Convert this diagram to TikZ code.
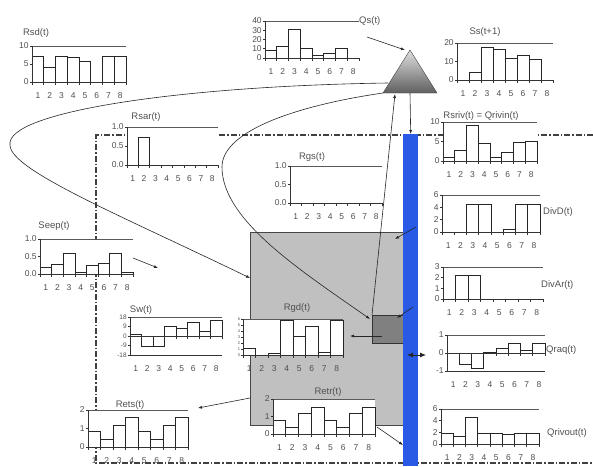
\documentclass[tikz,border=0pt]{standalone}
\usepackage{fontspec}
\setmainfont{Liberation Sans}
\usetikzlibrary{arrows.meta}

\definecolor{riverblue}{RGB}{40,90,230}
\definecolor{labgray}{RGB}{80,80,80}
\definecolor{zonegray}{RGB}{192,192,192}
\definecolor{cellgray}{RGB}{128,128,128}

\tikzset{
  chartbar/.style={draw=black!85, fill=white, line width=0.6pt},
  topline/.style={draw=gray!70!black, line width=1pt},
  axisline/.style={draw=black!80, line width=0.6pt},
  ticklab/.style={font=\fontsize{8.5}{9}\selectfont, text=labgray, inner sep=0.5pt},
  ylab/.style={ticklab},
  charttitle/.style={font=\fontsize{9.5}{10}\selectfont, text=labgray, inner sep=1pt},
  flow/.style={draw=black!85, line width=0.6pt, -{Latex[length=4pt,width=3pt]}},
  zoneline/.style={draw=black!75, line width=1.1pt, dash pattern=on 6pt off 2pt on 1.5pt off 2pt},
}

% #1 name, #2 left, #3 bottom, #4 top, #5 width, #6 ymin, #7 ymax, #8 values, #9 y ticks
\newcommand{\barchart}[9]{%
  \pgfmathsetmacro{\chsc}{(#3-#4)/(#7-(#6))}%
  \pgfmathsetmacro{\chzero}{#3+(#6)*\chsc}%
  \pgfmathsetmacro{\chbw}{#5/8}%
  \coordinate (#1) at (#2,#4);
  \fill[white] (#2,#4) rectangle ({#2+#5},#3);
  \foreach \v [count=\i] in {#8}
    \draw[chartbar] ({#2+(\i-1)*\chbw},\chzero) rectangle ({#2+\i*\chbw},{#3-((\v)-(#6))*\chsc});
  \draw[topline] (#2,#4) -- ({#2+#5},#4);
  \draw[axisline] (#2,#4) -- (#2,#3) -- ({#2+#5},#3);
  \draw[axisline] (#2,\chzero) -- ({#2+#5},\chzero);
  \foreach \t [count=\k] in {#9}
    \draw[axisline] (#2,{#3-((\t)-(#6))*\chsc}) -- ++(-2.5,0)
      node[ylab, anchor=east] (#1y\k) {\t};
  \foreach \i in {0,...,8}
    \draw[axisline] ({#2+\i*\chbw},\chzero) -- ++(0,2.5);
  \foreach \i in {1,...,8}
    \node[ticklab] (#1x\i) at ({#2+(\i-0.5)*\chbw},{#3+14}) {\i};
}

\begin{document}
\begin{tikzpicture}[x=1pt,y=-1pt]
\useasboundingbox (0,0) rectangle (593,466);

% catchment border
\draw[zoneline] (593,135) -- (96,135) -- (96,463) -- (593,463);

% aquifer, cell, river, reservoir
\node[draw=gray!55!black, fill=zonegray, minimum width=153pt, minimum height=193pt,
      inner sep=0pt, anchor=north west] (aquifer) at (250,232) {};
\node[draw=black!80, fill=cellgray, minimum width=31pt, minimum height=28pt,
      inner sep=0pt, anchor=north west] (cell) at (372,315) {};
\node[fill=riverblue, minimum width=15pt, minimum height=332pt,
      inner sep=0pt, anchor=north west] (river) at (403,134) {};

\coordinate (apex) at (410,50);
\coordinate (tbl) at (383,93);
\coordinate (tbr) at (437,93);
\shade[top color=gray!25, bottom color=gray!75!black, draw=gray!50!black]
  (apex) -- (tbr) -- (tbl) -- cycle;

% connectors
\coordinate (qsfoot) at (367,37);
\coordinate (tankin) at (405,50);
\coordinate (tankout) at (410,93);
\coordinate (tankbase) at (395,94);
\coordinate (tankleft) at (388,83);
\coordinate (loopw) at (10,145);
\coordinate (loope) at (222,167);
\coordinate (aqin) at (250,278);
\coordinate (cellin) at (370,319);
\coordinate (rivaq) at (416,227);
\coordinate (aqtop) at (395,239);
\coordinate (rivcell) at (413,307);
\coordinate (celltop) at (397,318);
\coordinate (cellout) at (382,336);
\coordinate (rgdin) at (350,336);
\coordinate (retrout) at (377,427);
\coordinate (rivin) at (403,445);
\coordinate (aqleft) at (250,398);
\coordinate (retsin) at (198,408);
\coordinate (seepout) at (133,258);
\coordinate (seepin) at (158,268);
\coordinate (exl) at (407,355);
\coordinate (exr) at (426,355);

\draw[flow] (qsfoot) -- (tankin);
\draw[flow] (tankout) -- (river.north);
\draw[flow] (cell.north west) -- (tankbase);
\draw[flow] (tankleft) .. controls (180,86) and (5,112) .. (loopw)
  .. controls (10,170) and (120,215) .. (aqin);
\draw[flow] (tbl) .. controls (300,105) and (222,130) .. (loope)
  .. controls (222,220) and (300,270) .. (cellin);
\draw[flow] (rivaq) -- (aqtop);
\draw[flow] (rivcell) -- (celltop);
\draw[flow] (cellout) -- (rgdin);
\draw[flow] (retrout) -- (rivin);
\draw[flow] (aqleft) -- (retsin);
\draw[flow] (seepout) -- (seepin);
\draw[draw=black!85, line width=0.8pt, {Latex[length=6pt,width=5pt]}-{Latex[length=6pt,width=5pt]}] (exl) -- (exr);

% charts
\barchart{rsd}{32}{82}{46}{94}{0}{10}{7.2,4.2,7.2,6.9,5.8,0,7.2,7.2}{0,5,10}
\node[charttitle] (rsdt) at (36,33) {Rsd(t)};

\barchart{qs}{265}{58}{21}{94}{0}{40}{8,13,31,11,2.5,5.5,11,0}{0,10,20,30,40}
\node[charttitle, anchor=west] (qst) at (358,21) {Qs(t)};

\barchart{ss}{457}{80}{43}{96}{0}{20}{0,4.3,17.8,16.8,11.9,13.5,11.4,0}{0,10,20}
\node[charttitle] (sst) at (485,32) {Ss(t+1)};

\barchart{rsriv}{443}{161}{122}{94}{0}{10}{1,2.8,9.2,4.6,1,2.3,4.9,5}{0,5,10}
\node[charttitle] (rsrivt) at (481,116) {Rsriv(t) = Qrivin(t)};

\barchart{divd}{442}{232}{195}{98}{0}{6}{0,0,4.5,4.5,0,0.4,4.5,4.5}{0,2,4,6}
\node[charttitle, anchor=west] (divdt) at (542,212) {DivD(t)};

\barchart{divar}{443}{299}{267}{100}{0}{3}{0,2.2,2.2,0,0,0,0,0}{0,1,2,3}
\node[charttitle, anchor=west] (divart) at (540,285) {DivAr(t)};

\barchart{qraq}{447}{371}{335}{98}{-1}{1}{0,-0.6,-0.85,0.05,0.25,0.55,0.15,0.55}{-1,0,1}
\node[charttitle, anchor=west] (qraqt) at (545,350) {Qraq(t)};

\barchart{qrivout}{441}{444}{409}{98}{0}{6}{1.9,1.4,4.6,1.9,1.9,1.6,1.9,1.9}{0,2,4,6}
\node[charttitle, anchor=west] (qrivoutt) at (546,433) {Qrivout(t)};

\barchart{rsar}{127}{165}{127}{91}{0}{1}{0,0.74,0,0,0,0,0,0}{0.0,0.5,1.0}
\node[charttitle] (rsart) at (146,117) {Rsar(t)};

\barchart{rgs}{290}{203}{166}{92}{0}{1}{0,0,0,0,0,0,0,0}{0.0,0.5,1.0}
\node[charttitle] (rgst) at (312,157) {Rgs(t)};

\barchart{seep}{40}{274}{239}{93}{0}{1}{0.2,0.28,0.6,0.05,0.25,0.3,0.6,0.05}{0.0,0.5,1.0}
\node[charttitle] (seept) at (54,226) {Seep(t)};

\begin{scope}[ylab/.style={font=\fontsize{6.5}{7}\selectfont, text=labgray, inner sep=0.5pt}]
\barchart{sw}{130}{355}{317}{92}{-18}{18}{2,-9.5,-9.5,9.5,7.6,13,4,14.5}{-18,-9,0,9,18}
\end{scope}
\node[charttitle] (swt) at (141,310) {Sw(t)};

\begin{scope}[ylab/.style={font=\fontsize{4}{4}\selectfont, text=labgray, inner sep=0pt}]
\barchart{rgd}{243}{355}{319}{100}{0}{6}{1.2,0,0.3,5.8,3.2,4.8,0.4,5.8}{0,1,2,3,4,5,6}
\end{scope}
\node[charttitle] (rgdt) at (297,308) {Rgd(t)};

\barchart{retr}{273}{434}{399}{102}{0}{2}{0.8,0.4,1.2,1.55,0.8,0.4,1.2,1.55}{0,1,2}
\node[charttitle] (retrt) at (328,392) {Retr(t)};

\barchart{rets}{88}{447}{410}{100}{0}{2}{0.85,0.4,1.2,1.6,0.85,0.4,1.2,1.6}{0,1,2}
\node[charttitle] (retst) at (130,405) {Rets(t)};

\end{tikzpicture}
\end{document}
